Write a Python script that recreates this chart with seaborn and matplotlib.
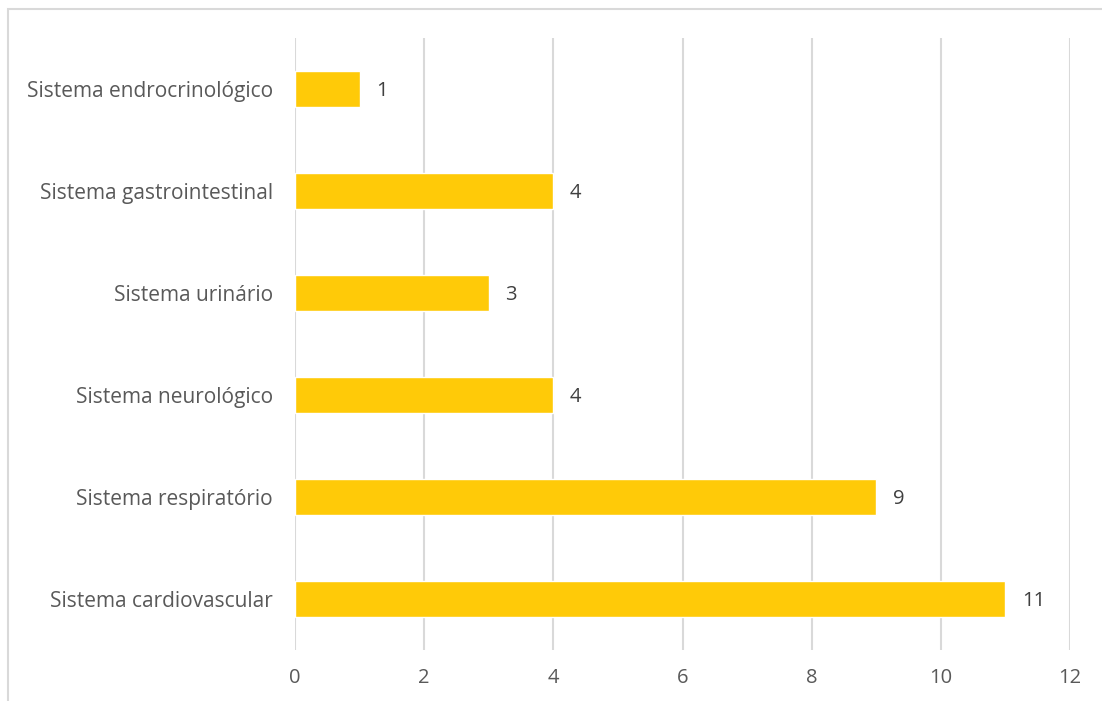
import matplotlib
matplotlib.use("Agg")
import matplotlib.pyplot as plt
import seaborn as sns
import pandas as pd
from matplotlib.patches import Rectangle

categories = ["Sistema endrocrinológico", "Sistema gastrointestinal", "Sistema urinário",
              "Sistema neurológico", "Sistema respiratório", "Sistema cardiovascular"]
values = [1, 4, 3, 4, 9, 11]
xticks = [0, 2, 4, 6, 8, 10, 12]

sns.set_theme(style="white")
plt.rcParams['font.family'] = ['Open Sans', 'DejaVu Sans']

df = pd.DataFrame({"cat": categories, "val": values})

fig = plt.figure(figsize=(11.02, 7.01), dpi=100)
ax = fig.add_axes([295/1102, 1-650/701, (1070-295)/1102, (650-38)/701])

sns.barplot(data=df, y="cat", x="val", orient="h", color="#FFCA08",
            width=0.35, saturation=1, ax=ax, zorder=3)

ax.set_xlim(0, 12)
ax.set_ylim(5.5, -0.5)
ax.set_xticks(xticks)
ax.set_xticklabels([str(t) for t in xticks])
ax.grid(axis="x", color="#D9D9D9", linewidth=1.5, zorder=0)
ax.grid(axis="y", visible=False)
for s in ax.spines.values():
    s.set_visible(False)
ax.set_xlabel("")
ax.set_ylabel("")
ax.tick_params(axis="both", length=0, colors="#595959", labelsize=14.5)
ax.tick_params(axis="y", labelsize=15)
ax.tick_params(axis="x", pad=13)
ax.tick_params(axis="y", pad=16)

for i, v in enumerate(values):
    ax.annotate(str(v), (v, i), xytext=(12, 0), textcoords="offset points",
                va="center_baseline", ha="left", fontsize=14.5, color="#404040")

fig.patches.append(Rectangle((8/1102, -0.01), 1.1, 1-9/701+0.01, transform=fig.transFigure,
                             fill=False, edgecolor="#D9D9D9", linewidth=1.5))

fig.savefig("out.png", dpi=100)
